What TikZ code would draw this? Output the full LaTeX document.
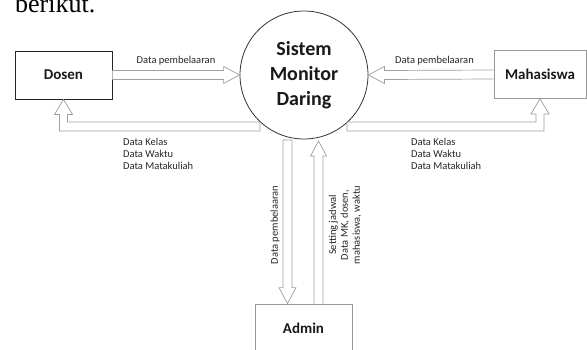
\documentclass[tikz,border=0pt]{standalone}
\usepackage{fontspec}
\setmainfont{Carlito}
\newfontfamily\serifdoc{Liberation Serif}
\usetikzlibrary{calc}

\begin{document}
\begin{tikzpicture}[x=1pt,y=1pt,
		entity/.style={rectangle,draw=gray!80,line width=0.8pt,minimum width=97pt,minimum height=48pt,inner sep=0pt,text=black!90,font=\bfseries\fontsize{15}{18}\selectfont},
		process/.style={circle,draw=black!80,line width=0.8pt,minimum size=128pt,inner sep=0pt,align=center,text=black!90,font=\bfseries\fontsize{20}{25}\selectfont},
		flow/.style={draw=gray!75,fill=white,line width=0.7pt,line join=miter},
		lbl/.style={inner sep=0pt,text=black!85,font=\fontsize{10.5}{11.8}\selectfont}
	]
	\useasboundingbox (0,0) rectangle (587,-349);
	\node[anchor=base west,inner sep=0pt,font=\serifdoc\fontsize{26}{30}\selectfont] (B) at (15,-12) {berikut.};

	\node[entity,draw=black!85] (D) at (63.5,-75) {Dosen};
	\node[process] (S) at (304,-75) {Sistem\\Monitor\\Daring};
	\node[entity,minimum width=92pt] (M) at (540,-74.5) {Mahasiswa};
	\node[entity] (A) at (303.5,-328) {Admin};

	\coordinate (kl) at (260,-126.5);
	\coordinate (kr) at (347,-126.5);
	\coordinate (ka) at (287.5,-140);
	\coordinate (kb) at (318.5,-141);

	% Dosen -> Sistem
	\draw[flow] ($(D.east)+(0,-4.5)$) -- ($(S.west)+(-16,-4.5)$) -- ($(S.west)+(-16,-8.5)$)
		-- (S.west) -- ($(S.west)+(-16,8.5)$) -- ($(S.west)+(-16,4.5)$) -- ($(D.east)+(0,4.5)$);
	% Mahasiswa -> Sistem
	\draw[flow] ($(M.west)+(0,-4.5)$) -- ($(S.east)+(16,-4.5)$) -- ($(S.east)+(16,-8.5)$)
		-- (S.east) -- ($(S.east)+(16,8.5)$) -- ($(S.east)+(16,4.5)$) -- ($(M.west)+(0,4.5)$);
	% Sistem -> Dosen
	\draw[flow] ($(kl)+(0,4.5)$) -- ($(D.south |- kl)+(4,4.5)$) -- ($(D.south)+(4,-15)$)
		-- ($(D.south)+(9,-15)$) -- (D.south) -- ($(D.south)+(-9,-15)$) -- ($(D.south)+(-4,-15)$)
		-- ($(D.south |- kl)+(-4,-4.5)$) -- ($(kl)+(0,-4.5)$) -- cycle;
	% Sistem -> Mahasiswa
	\draw[flow] ($(kr)+(0,4.5)$) -- ($(M.south |- kr)+(-4,4.5)$) -- ($(M.south)+(-4,-15)$)
		-- ($(M.south)+(-9,-15)$) -- (M.south) -- ($(M.south)+(9,-15)$) -- ($(M.south)+(4,-15)$)
		-- ($(M.south |- kr)+(4,-4.5)$) -- ($(kr)+(0,-4.5)$) -- cycle;
	% Sistem -> Admin
	\draw[flow] ($(ka)+(-4.5,0)$) -- ($(ka |- A.north)+(-4.5,16)$) -- ($(ka |- A.north)+(-8.5,16)$)
		-- (ka |- A.north) -- ($(ka |- A.north)+(8.5,16)$) -- ($(ka |- A.north)+(4.5,16)$)
		-- ($(ka)+(4.5,0)$) -- cycle;
	% Admin -> Sistem
	\draw[flow] ($(kb |- A.north)+(-4.5,0)$) -- ($(kb)+(-4.5,-15)$) -- ($(kb)+(-8,-15)$)
		-- (kb) -- ($(kb)+(8,-15)$) -- ($(kb)+(4.5,-15)$) -- ($(kb |- A.north)+(4.5,0)$);

	\node[lbl] (t1) at (176,-61) {Data pembelaaran};
	\node[lbl] (t2) at (434.5,-61) {Data pembelaaran};
	\node[lbl,anchor=north west,align=left] (t3) at (123,-138) {Data Kelas\\Data Waktu\\Data Matakuliah};
	\node[lbl,anchor=north west,align=left] (t4) at (411,-138) {Data Kelas\\Data Waktu\\Data Matakuliah};
	\node[lbl,rotate=90] (t5) at (275,-225) {Data pembelaaran};
	\node[lbl,rotate=90,align=center] (t6) at (345,-225) {Setting jadwal\\Data MK, dosen,\\mahasiswa, waktu};
\end{tikzpicture}
\end{document}
